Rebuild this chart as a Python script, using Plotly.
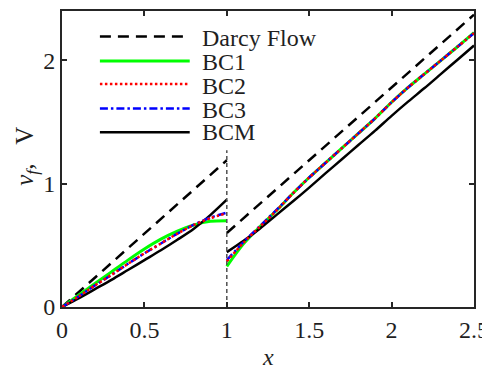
import plotly.graph_objects as go

# ---------------- data ----------------
x_left = [0.0, 0.1, 0.2, 0.3, 0.4, 0.5, 0.6, 0.7, 0.8, 0.9, 1.0]
x_right = [1.0, 1.1, 1.2, 1.3, 1.4, 1.5, 1.6, 1.7, 1.8, 1.9, 2.0, 2.1, 2.2, 2.3, 2.4, 2.5]

darcy_left_x = [0.0, 1.0]
darcy_left_y = [0.0, 1.19]
darcy_right_x = [1.0, 2.5]
darcy_right_y = [0.60, 2.37]

bc1_left = [0.0, 0.095, 0.19, 0.285, 0.38, 0.47, 0.55, 0.615, 0.665, 0.695, 0.70]
bc2_left = [0.0, 0.085, 0.175, 0.26, 0.35, 0.435, 0.515, 0.595, 0.665, 0.72, 0.76]
bc3_left = [0.0, 0.085, 0.175, 0.26, 0.35, 0.435, 0.515, 0.595, 0.667, 0.725, 0.765]
bcm_left = [0.0, 0.07, 0.145, 0.22, 0.30, 0.38, 0.46, 0.545, 0.635, 0.745, 0.87]

bc1_right = [0.33, 0.51, 0.65, 0.78, 0.92, 1.05, 1.17, 1.29, 1.41, 1.53, 1.66, 1.78, 1.89, 2.0, 2.11, 2.225]
bc2_right = [0.37, 0.52, 0.65, 0.78, 0.92, 1.05, 1.17, 1.29, 1.41, 1.53, 1.66, 1.78, 1.89, 2.0, 2.11, 2.22]
bc3_right = [0.38, 0.525, 0.655, 0.785, 0.92, 1.05, 1.17, 1.29, 1.41, 1.53, 1.66, 1.78, 1.89, 2.0, 2.11, 2.22]
bcm_right = [0.445, 0.535, 0.635, 0.745, 0.855, 0.968, 1.085, 1.2, 1.315, 1.43, 1.55, 1.665, 1.775, 1.89, 2.005, 2.12]

interface_x = [1.0, 1.0]
interface_y = [0.0, 1.27]

legend_labels = ["Darcy Flow", "BC1", "BC2", "BC3", "BCM"]
x_ticks = [0, 0.5, 1, 1.5, 2, 2.5]
x_ticklabels = ["0", "0.5", "1", "1.5", "2", "2.5"]
y_ticks = [0, 1, 2]
y_ticklabels = ["0", "1", "2"]

# ---------------- styles ----------------
FONT = "Liberation Serif"
styles = {
    "Darcy Flow": dict(color="black", width=2.5, dash="11px,7px"),
    "BC1": dict(color="#00ff00", width=3, dash="solid"),
    "BC2": dict(color="#ff0000", width=2.5, dash="2.5px,2.5px"),
    "BC3": dict(color="#0000ff", width=2.5, dash="8px,3px,2.5px,3px"),
    "BCM": dict(color="black", width=2.5, dash="solid"),
}

fig = go.Figure()

def add(x, y, name, spline=True):
    fig.add_trace(go.Scatter(
        x=x, y=y, mode="lines", showlegend=False, name=name,
        line=dict(shape="spline" if spline else "linear", smoothing=0.8, **styles[name]),
        hoverinfo="skip"))

add(darcy_left_x, darcy_left_y, "Darcy Flow", spline=False)
add(darcy_right_x, darcy_right_y, "Darcy Flow", spline=False)
add(x_left, bc1_left, "BC1")
add(x_right, bc1_right, "BC1")
add(x_left, bcm_left, "BCM")
add(x_right, bcm_right, "BCM")
add(x_left, bc3_left, "BC3")
add(x_right, bc3_right, "BC3")
add(x_left, bc2_left, "BC2")
add(x_right, bc2_right, "BC2")

fig.add_trace(go.Scatter(x=interface_x, y=interface_y, mode="lines", showlegend=False,
                         line=dict(color="#505050", width=1.5, dash="4px,3px"), hoverinfo="skip"))

# manual legend (long line samples like the reference)
line_rows = [0.914, 0.831, 0.753, 0.671, 0.590]
text_rows = [0.909, 0.827, 0.746, 0.666, 0.590]
for lab, ly, ty in zip(legend_labels, line_rows, text_rows):
    st = styles[lab]
    fig.add_shape(type="line", xref="paper", yref="paper", x0=0.092, x1=0.31, y0=ly, y1=ly,
                  line=dict(color=st["color"], width=st["width"], dash=st["dash"]))
    fig.add_annotation(xref="paper", yref="paper", x=0.335, y=ty, text=lab, showarrow=False,
                       xanchor="left", yanchor="middle", font=dict(family=FONT, size=24))

# axis titles
fig.add_annotation(xref="paper", yref="paper", x=0.5, y=-0.17, text="<i>x</i>", showarrow=False,
                   xanchor="center", yanchor="middle", font=dict(family=FONT, size=24))
fig.add_annotation(xref="paper", yref="paper", x=-0.088, y=0.51,
                   text="<i>v</i><sub><i>f</i></sub>,&nbsp;&nbsp;&nbsp;V", showarrow=False, textangle=-90,
                   xanchor="center", yanchor="middle", font=dict(family=FONT, size=25))

axis_common = dict(showline=True, linecolor="#262626", linewidth=2, mirror="ticks",
                   ticks="inside", ticklen=5, tickwidth=1.5, tickcolor="#262626",
                   showgrid=False, zeroline=False,
                   tickfont=dict(family=FONT, size=24))

# page body adds an 8px offset, so the figure is slightly smaller and shifted
fig.update_layout(
    width=482, height=362,
    margin=dict(l=54, r=15, t=1, b=63),
    paper_bgcolor="white", plot_bgcolor="white",
    font=dict(family=FONT, color="#1f1f1f"),
    xaxis=dict(range=[0, 2.5], tickvals=x_ticks, ticktext=x_ticklabels, **axis_common),
    yaxis=dict(range=[0, 2.4], tickvals=y_ticks, ticktext=y_ticklabels, **axis_common),
)

fig.write_html("out.html")
